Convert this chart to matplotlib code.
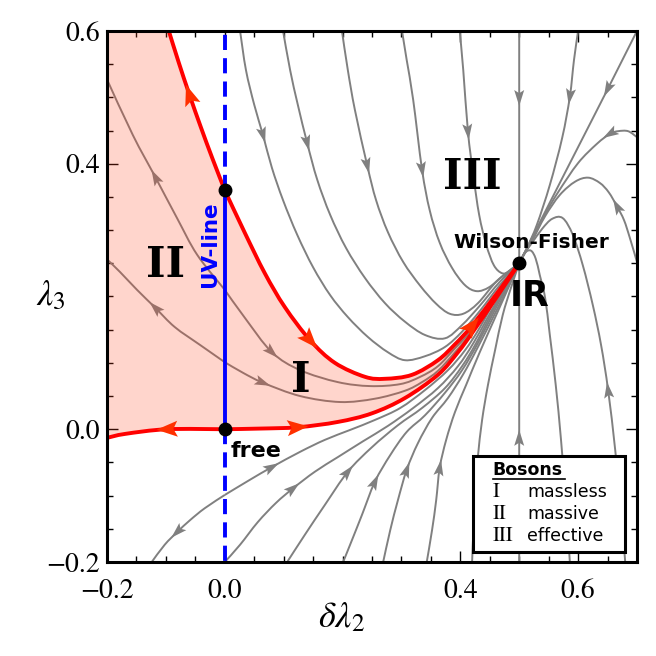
import matplotlib
matplotlib.use("Agg")
import numpy as np
import matplotlib.pyplot as plt
from matplotlib.patches import Polygon, Rectangle, PathPatch
from matplotlib.path import Path
from matplotlib.ticker import FixedLocator, MultipleLocator

plt.rcParams["mathtext.fontset"] = "stix"

# fixed points (delta lambda_2, lambda_3)
uv_point = (0.0, 0.36)
free_point = (0.0, 0.0)
wf_point = (0.5, 0.25)

# red separatrices, each listed in the direction of the flow
r1_up = [(0.000, 0.360), (-0.021, 0.408), (-0.041, 0.456), (-0.060, 0.504),
         (-0.078, 0.552), (-0.095, 0.600)]
r1_down = [(0.000, 0.360), (0.034, 0.296), (0.068, 0.235), (0.102, 0.184),
           (0.145, 0.134), (0.187, 0.100), (0.238, 0.079), (0.272, 0.076),
           (0.318, 0.082), (0.362, 0.104), (0.391, 0.128), (0.420, 0.156),
           (0.464, 0.207), (0.500, 0.250)]
r2_left = [(0.000, 0.000), (-0.098, 0.000), (-0.169, -0.007), (-0.200, -0.013)]
r2_right = [(0.000, 0.000), (0.060, 0.001), (0.124, 0.003), (0.192, 0.011),
            (0.250, 0.024), (0.306, 0.047), (0.362, 0.082), (0.396, 0.116),
            (0.420, 0.145), (0.464, 0.202), (0.500, 0.250)]

# flow lines inside the shaded region (start on the UV line)
p1_left = [(0.000, 0.210), (-0.047, 0.263), (-0.081, 0.318), (-0.118, 0.380),
           (-0.156, 0.443), (-0.200, 0.527)]
p1_right = [(0.000, 0.210), (0.034, 0.168), (0.080, 0.116), (0.128, 0.089),
            (0.192, 0.071), (0.247, 0.065), (0.298, 0.068), (0.332, 0.079),
            (0.362, 0.095), (0.391, 0.122), (0.420, 0.150), (0.459, 0.198),
            (0.500, 0.250)]
p2_left = [(0.000, 0.101), (-0.042, 0.127), (-0.085, 0.154), (-0.118, 0.183),
           (-0.149, 0.210), (-0.178, 0.237), (-0.200, 0.256)]
p2_right = [(0.000, 0.101), (0.031, 0.085), (0.065, 0.070), (0.128, 0.050),
            (0.196, 0.041), (0.255, 0.046), (0.306, 0.058), (0.335, 0.071),
            (0.362, 0.088), (0.391, 0.116), (0.420, 0.147), (0.461, 0.199),
            (0.500, 0.250)]

# flow lines coming in from the top (region III)
g1 = [(0.026, 0.600), (0.036, 0.541), (0.050, 0.489), (0.065, 0.443),
      (0.080, 0.394), (0.099, 0.345), (0.123, 0.293), (0.150, 0.244),
      (0.179, 0.202), (0.209, 0.169), (0.243, 0.139), (0.277, 0.116),
      (0.306, 0.104), (0.340, 0.110), (0.374, 0.124), (0.403, 0.147),
      (0.433, 0.178), (0.467, 0.217), (0.500, 0.250)]
g2 = [(0.099, 0.600), (0.111, 0.541), (0.124, 0.489), (0.140, 0.431),
      (0.157, 0.376), (0.179, 0.323), (0.206, 0.273), (0.238, 0.228),
      (0.272, 0.190), (0.306, 0.162), (0.340, 0.142), (0.374, 0.137),
      (0.403, 0.157), (0.433, 0.186), (0.467, 0.222), (0.500, 0.250)]
g3 = [(0.199, 0.600), (0.209, 0.541), (0.221, 0.481), (0.242, 0.397),
      (0.257, 0.345), (0.277, 0.297), (0.303, 0.252), (0.332, 0.216),
      (0.359, 0.189), (0.382, 0.174), (0.405, 0.174), (0.430, 0.190),
      (0.462, 0.223), (0.500, 0.250)]
g4 = [(0.301, 0.600), (0.309, 0.556), (0.320, 0.496), (0.335, 0.391),
      (0.348, 0.330), (0.365, 0.281), (0.386, 0.243), (0.408, 0.217),
      (0.428, 0.208), (0.449, 0.214), (0.472, 0.231), (0.500, 0.250)]
g5 = [(0.399, 0.600), (0.405, 0.541), (0.413, 0.448), (0.422, 0.383),
      (0.432, 0.323), (0.444, 0.278), (0.457, 0.247), (0.471, 0.235),
      (0.484, 0.238), (0.500, 0.250)]
v_top = [(0.500, 0.600), (0.500, 0.499), (0.500, 0.250)]
v_bottom = [(0.500, -0.200), (0.500, -0.013), (0.500, 0.250)]
g6 = [(0.600, 0.600), (0.593, 0.556), (0.586, 0.501), (0.573, 0.439),
      (0.552, 0.368), (0.530, 0.308), (0.513, 0.273), (0.500, 0.250)]
g7 = [(0.700, 0.600), (0.650, 0.512), (0.600, 0.425), (0.550, 0.338),
      (0.500, 0.250)]
g8 = [(0.700, 0.440), (0.685, 0.449), (0.668, 0.449), (0.654, 0.445),
      (0.632, 0.430), (0.600, 0.401), (0.566, 0.357), (0.544, 0.324),
      (0.522, 0.285), (0.500, 0.250)]
g9 = [(0.700, 0.252), (0.688, 0.288), (0.678, 0.315), (0.666, 0.336),
      (0.652, 0.357), (0.637, 0.371), (0.617, 0.379), (0.595, 0.373),
      (0.569, 0.353), (0.544, 0.321), (0.522, 0.284), (0.508, 0.264),
      (0.500, 0.250)]
g10 = [(0.680, -0.200), (0.673, -0.122), (0.663, -0.031), (0.651, 0.059),
       (0.639, 0.127), (0.625, 0.187), (0.608, 0.247), (0.591, 0.293),
       (0.574, 0.318), (0.556, 0.317), (0.539, 0.302), (0.522, 0.281),
       (0.508, 0.264), (0.500, 0.250)]
g11 = [(0.586, -0.200), (0.579, -0.107), (0.571, -0.016), (0.562, 0.067),
       (0.552, 0.142), (0.544, 0.198), (0.535, 0.232), (0.528, 0.257),
       (0.520, 0.269), (0.510, 0.266), (0.500, 0.250)]

# flow lines below the lower separatrix
a_left = [(0.000, -0.099), (-0.034, -0.119), (-0.059, -0.137), (-0.081, -0.155),
          (-0.102, -0.174), (-0.124, -0.200)]
a_right = [(0.000, -0.099), (0.043, -0.076), (0.080, -0.057), (0.128, -0.034),
           (0.170, -0.016), (0.213, -0.001), (0.255, 0.014), (0.298, 0.032),
           (0.340, 0.059), (0.379, 0.089), (0.408, 0.119), (0.433, 0.153),
           (0.464, 0.202), (0.500, 0.250)]
b = [(0.000, -0.200), (0.026, -0.174), (0.056, -0.140), (0.087, -0.111),
     (0.116, -0.089), (0.153, -0.064), (0.192, -0.042), (0.235, -0.018),
     (0.277, 0.005), (0.320, 0.032), (0.362, 0.062), (0.396, 0.095),
     (0.423, 0.131), (0.462, 0.193), (0.500, 0.250)]
c = [(0.106, -0.200), (0.136, -0.159), (0.170, -0.114), (0.209, -0.064),
     (0.250, -0.027), (0.294, 0.006), (0.335, 0.032), (0.374, 0.062),
     (0.403, 0.095), (0.427, 0.130), (0.462, 0.190), (0.500, 0.250)]
d = [(0.201, -0.200), (0.216, -0.167), (0.233, -0.129), (0.255, -0.079),
     (0.281, -0.039), (0.309, -0.004), (0.340, 0.021), (0.374, 0.055),
     (0.403, 0.089), (0.430, 0.130), (0.464, 0.189), (0.500, 0.250)]
e = [(0.269, -0.200), (0.281, -0.152), (0.294, -0.107), (0.309, -0.061),
     (0.328, -0.021), (0.352, 0.017), (0.379, 0.047), (0.405, 0.083),
     (0.430, 0.124), (0.466, 0.187), (0.500, 0.250)]
f = [(0.343, -0.200), (0.352, -0.152), (0.359, -0.107), (0.365, -0.058),
     (0.376, -0.016), (0.391, 0.026), (0.410, 0.067), (0.433, 0.116),
     (0.467, 0.184), (0.500, 0.250)]
g = [(0.420, -0.200), (0.423, -0.137), (0.427, -0.077), (0.430, -0.040),
     (0.437, 0.014), (0.447, 0.067), (0.459, 0.119), (0.472, 0.172),
     (0.486, 0.213), (0.500, 0.250)]

x_ticks = [-0.2, 0.0, 0.4, 0.6]
y_ticks = [-0.2, 0.0, 0.4, 0.6]
legend_numerals = ["I", "II", "III"]
legend_words = ["massless", "massive", "effective"]


def smooth_segments(curve):
    """Bezier pieces of a Catmull-Rom curve through the listed points."""
    p = np.asarray(curve, dtype=float)
    if len(p) < 3:
        return [p[0]], [p[1]]
    ext = np.vstack([p[0], p, p[-1]])
    verts = []
    for i in range(1, len(ext) - 2):
        c1 = ext[i] + (ext[i + 1] - ext[i - 1]) / 6.0
        c2 = ext[i + 1] - (ext[i + 2] - ext[i]) / 6.0
        verts += [c1, c2, ext[i + 1]]
    return [p[0]], verts


def smooth_path(curve):
    start, rest = smooth_segments(curve)
    codes = [Path.MOVETO] + ([Path.CURVE4] * len(rest) if len(curve) > 2
                             else [Path.LINETO])
    return Path(np.vstack([start, rest]), codes)


def draw_curve(ax, curve, color, lw, zorder, ls="-"):
    ax.add_patch(PathPatch(smooth_path(curve), fill=False, ec=color, lw=lw,
                           ls=ls, zorder=zorder, capstyle="butt"))


def arrow_head(ax, curve, k, color, length, width, zorder):
    """Filled arrow head centred on point k of a curve, pointing along the flow."""
    pts = ax.transData.transform(np.asarray(curve))
    p0 = pts[max(k - 1, 0)]
    p1 = pts[min(k + 1, len(pts) - 1)]
    u = (p1 - p0) / np.hypot(*(p1 - p0))
    n = np.array([-u[1], u[0]])
    tip = pts[k] + u * length / 2
    base = pts[k] - u * length / 2
    notch = base + u * length * 0.2
    verts = [tip, base + n * width / 2, notch, base - n * width / 2]
    verts = ax.transData.inverted().transform(verts)
    ax.add_patch(Polygon(verts, closed=True, fc=color, ec="none", zorder=zorder))


fig = plt.figure(figsize=(6.56, 6.56), dpi=100)
ax = fig.add_axes([0.1631, 0.1433, 0.8079, 0.8095])
ax.set_xlim(-0.2, 0.7)
ax.set_ylim(-0.2, 0.6)

GRAY = "#808080"
gray_curves = [
    (p1_left, [3]), (p1_right, [2]), (p2_left, [3]), (p2_right, [2]),
    (g1, [3]), (g2, [3]), (g3, [3]), (g4, [3]), (g5, [2]),
    (v_top, [1]), (v_bottom, [1]),
    (g6, [2]), (g7, [1]), (g8, [3]), (g9, [3]), (g10, [3]), (g11, []),
    (a_left, [3]), (a_right, [2]), (b, [4]), (c, [3]), (d, [3]), (e, [3]),
    (f, [3]), (g, []),
]
for curve, arrows in gray_curves:
    draw_curve(ax, curve, GRAY, 1.4, 2)
    for k in arrows:
        arrow_head(ax, curve, k, GRAY, 16, 10, 2.5)

# shaded region between the two red separatrices
pieces = [r1_up[::-1], r1_down, r2_right[::-1], r2_left]
verts = [(-0.2, 0.6)]
codes = [Path.MOVETO]
for piece in pieces:
    start, rest = smooth_segments(piece)
    verts += [start[0]] + list(rest)
    codes += [Path.LINETO] + [Path.CURVE4] * len(rest)
verts.append((-0.2, 0.6))
codes.append(Path.CLOSEPOLY)
ax.add_patch(PathPatch(Path(np.asarray(verts, dtype=float), codes),
                       fc=(1.0, 0.25, 0.1), alpha=0.22, lw=0, zorder=3))

red_curves = [(r1_up, [3]), (r1_down, [4, 11]), (r2_left, [1]), (r2_right, [2])]
for curve, arrows in red_curves:
    draw_curve(ax, curve, "red", 2.8, 4)
    for k in arrows:
        arrow_head(ax, curve, k, "#ff3000", 21, 16, 6)

# UV line: solid between the free and UV points, dashed beyond
dash = (0, (3.9, 2.1))
ax.plot([free_point[0], uv_point[0]], [free_point[1], uv_point[1]],
        color="blue", lw=2.8, zorder=5, solid_capstyle="butt")
ax.plot([uv_point[0], uv_point[0]], [uv_point[1], 0.6], color="blue", lw=2.8,
        ls=dash, zorder=5)
ax.plot([free_point[0], free_point[0]], [free_point[1], -0.2], color="blue",
        lw=2.8, ls=dash, zorder=5)

for pt in (uv_point, free_point, wf_point):
    ax.plot(*pt, "o", color="black", ms=9, zorder=7)

bold = dict(family="DejaVu Sans", fontweight="bold", zorder=8)
ax.text(0.053, -0.033, "free", fontsize=16, ha="center", va="center", **bold)
ax.text(0.520, 0.281, "Wilson-Fisher", fontsize=14.5, ha="center", va="center", **bold)
ax.text(0.518, 0.201, "IR", fontsize=25, ha="center", va="center", **bold)
ax.text(-0.025, 0.279, "UV-line", fontsize=15.5, rotation=90, color="blue",
        ha="center", va="center", **bold)

roman = dict(family="DejaVu Serif", fontweight="bold", fontsize=30,
             ha="center", va="center", zorder=8)
ax.text(-0.100, 0.247, "II", **roman)
ax.text(0.129, 0.074, "I", **roman)
ax.text(0.421, 0.380, "III", **roman)

# legend box
ax.add_patch(Rectangle((0.691, 0.0188), 0.286, 0.181, transform=ax.transAxes,
                       fc="white", ec="black", lw=2.2, zorder=9))
ax.text(0.728, 0.173, "Bosons", transform=ax.transAxes, fontsize=12.5,
        family="DejaVu Sans", fontweight="bold", va="center", zorder=10)
ax.plot([0.728, 0.864], [0.156, 0.156], transform=ax.transAxes, color="black",
        lw=1.2, zorder=10)
for i, (num, word) in enumerate(zip(legend_numerals, legend_words)):
    yy = 0.132 - i * 0.0415
    ax.text(0.728, yy, num, transform=ax.transAxes, fontsize=15,
            family="STIXGeneral", va="center", zorder=10)
    ax.text(0.7925, yy, word, transform=ax.transAxes, fontsize=12.5,
            family="DejaVu Sans", va="center", zorder=10)

ax.xaxis.set_major_locator(FixedLocator(x_ticks))
ax.yaxis.set_major_locator(FixedLocator(y_ticks))
ax.xaxis.set_minor_locator(MultipleLocator(0.05))
ax.yaxis.set_minor_locator(MultipleLocator(0.05))
ax.tick_params(which="both", direction="in", top=True, right=True,
               labelsize=20, labelfontfamily="STIXGeneral")
ax.tick_params(which="major", length=8, width=1)
ax.tick_params(which="minor", length=4, width=1)
ax.tick_params(axis="x", pad=12)
ax.tick_params(axis="y", pad=5)
for sp in ax.spines.values():
    sp.set_linewidth(2.2)
    sp.set_zorder(11)

ax.set_xlabel(r"$\delta\lambda_2$", fontsize=26)
ax.xaxis.set_label_coords(0.443, -0.104)
ax.xaxis.label.set_va("center")
ax.set_ylabel(r"$\lambda_3$", fontsize=26, rotation=0)
ax.yaxis.set_label_coords(-0.106, 0.503)
ax.yaxis.label.set_va("center")
ax.yaxis.label.set_ha("center")

fig.savefig("out.png", dpi=100)
